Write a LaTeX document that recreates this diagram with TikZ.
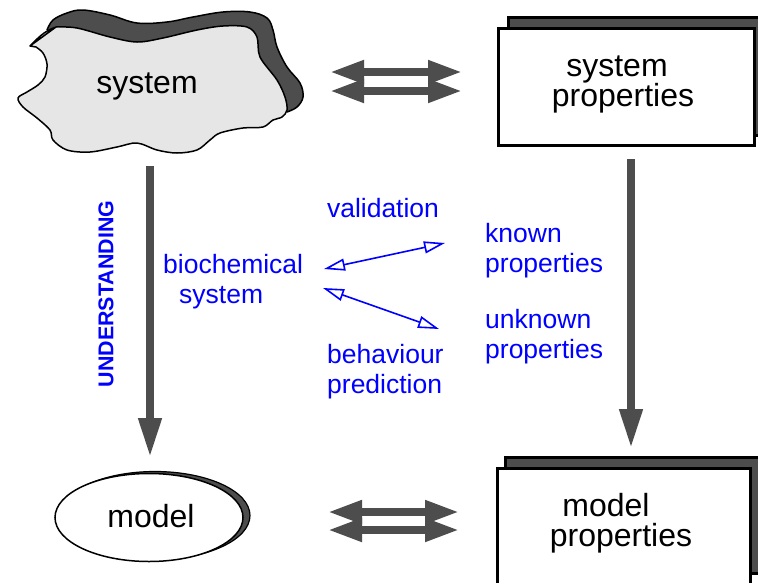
\documentclass[tikz,border=0pt]{standalone}
\usepackage{fontspec}
\setmainfont{Liberation Sans}
\usetikzlibrary{arrows.meta,shapes.geometric}
\definecolor{dk}{RGB}{77,77,77}
\definecolor{lt}{RGB}{230,230,230}
\definecolor{bl}{RGB}{0,0,255}
\begin{document}
\begin{tikzpicture}[x=1pt,y=-1pt,
  blk/.style={font=\fontsize{32}{32}\selectfont, inner sep=0, anchor=base},
  blu/.style={font=\fontsize{26.5}{26.5}\selectfont, text=bl, inner sep=0, anchor=base west},
  bigarrow/.style={draw=dk, line width=7.5pt, -{Triangle[length=39pt,width=22pt]}},
  dblarrow/.style={draw=dk, line width=7.5pt, {Triangle[length=34pt,width=22pt]}-{Triangle[length=34pt,width=22pt]}},
  bluearr/.style={draw=bl, line width=1.6pt, {Triangle[open,length=21pt,width=12pt]}-{Triangle[open,length=21pt,width=12pt]}},
  propbox/.style={draw=black, line width=3pt, rectangle, inner sep=0}]
\useasboundingbox (0,0) rectangle (758,582);
\clip (0,0) rectangle (758,582);
\fill[white] (0,0) rectangle (758,582);

% ---- cloud "system" ----
\fill[dk] plot[smooth, tension=0.6] coordinates {(47,30) (53,20) (67,13) (83,10) (110,15) (137,23) (167,22) (193,17) (223,12) (250,12) (267,18) (273,30) (277,47) (287,67) (300,83) (303,97) (297,107) (287,112)} -- (200,90) -- cycle;
\draw[line width=1.5pt] plot[smooth, tension=0.6] coordinates {(47,30) (53,20) (67,13) (83,10) (110,15) (137,23) (167,22) (193,17) (223,12) (250,12) (267,18) (273,30) (277,47) (287,67) (300,83) (303,97) (297,107) (287,112)};
\draw[line width=1.5pt, fill=lt, line join=round] (30,46)
  .. controls (38,38) and (44,31) .. (56,27)
  plot[smooth, tension=0.55] coordinates {(56,27) (77,28) (110,37) (137,42) (163,38) (197,30) (223,26) (247,27) (257,37) (260,57) (277,80) (285,97) (287,110) (282,117) (273,120) (263,127) (243,128) (220,133) (210,140) (197,150) (177,153) (157,150) (137,143) (117,147) (90,152) (67,150) (53,140) (50,130) (37,118) (23,107) (18,98) (27,92) (38,85) (45,77) (47,64) (43,53) (36,47)}
  -- (30,46) -- cycle;
\node[blk] (sys) at (147,93) {system};

% ---- system properties ----
\node[propbox, fill=dk, minimum width=254pt, minimum height=118pt] (spback) at (635,76) {};
\node[propbox, fill=white, minimum width=256pt, minimum height=117pt] (sp) at (626,86.5) {};
\node[blk] (sp1) at (617,76) {system};
\node[blk] (sp2) at (623,106) {properties};

% ---- model ----
\draw[line width=1.2pt, fill=dk] (155,515.5) ellipse [x radius=95, y radius=44];
\node[draw, fill=white, ellipse, line width=1.5pt, inner sep=0, minimum width=188pt, minimum height=88pt] (model) at (149,517.5) {};
\node[blk] (modeltxt) at (151,527) {model};

% ---- model properties ----
\node[propbox, fill=dk, minimum width=257pt, minimum height=116pt] (mpback) at (633.5,515) {};
\node[propbox, fill=white, minimum width=253pt, minimum height=124pt] (mp) at (623.5,530) {};
\node[blk] (mp1) at (606,516) {model};
\node[blk] (mp2) at (621,546) {properties};

% ---- big arrows ----
\coordinate (lt) at (150,166);
\coordinate (lb) at (150,457);
\coordinate (rt) at (631,159);
\coordinate (rb) at (631,448);
\draw[bigarrow] (lt) -- (lb);
\draw[bigarrow] (rt) -- (rb);

\coordinate (ha1) at (330,72);  \coordinate (hb1) at (462,72);
\coordinate (ha2) at (330,91);  \coordinate (hb2) at (462,91);
\draw[dblarrow] (ha1) -- (hb1);
\draw[dblarrow] (ha2) -- (hb2);
\coordinate (ma1) at (328,512); \coordinate (mb1) at (459,512);
\coordinate (ma2) at (328,530); \coordinate (mb2) at (459,530);
\draw[dblarrow] (ma1) -- (mb1);
\draw[dblarrow] (ma2) -- (mb2);

% ---- blue labels ----
\node[font=\bfseries\fontsize{21.4}{21.4}\selectfont, text=bl, rotate=90, inner sep=0] (und) at (106,294) {UNDERSTANDING};
\node[blu, anchor=base] (val) at (383,217) {validation};
\node[blu] (bio1) at (163,273) {biochemical};
\node[blu] (bio2) at (179,303) {system};
\node[blu] (kn1) at (485,242) {known};
\node[blu] (kn2) at (485,272) {properties};
\node[blu] (un1) at (485,328) {unknown};
\node[blu] (un2) at (485,358) {properties};
\node[blu] (be1) at (327,363) {behaviour};
\node[blu] (be2) at (327,393) {prediction};

\coordinate (b1a) at (324,269); \coordinate (b1b) at (445,243);
\coordinate (b2a) at (323,288); \coordinate (b2b) at (439,329);
\draw[bluearr] (b1a) -- (b1b);
\draw[bluearr] (b2a) -- (b2b);
\end{tikzpicture}
\end{document}
